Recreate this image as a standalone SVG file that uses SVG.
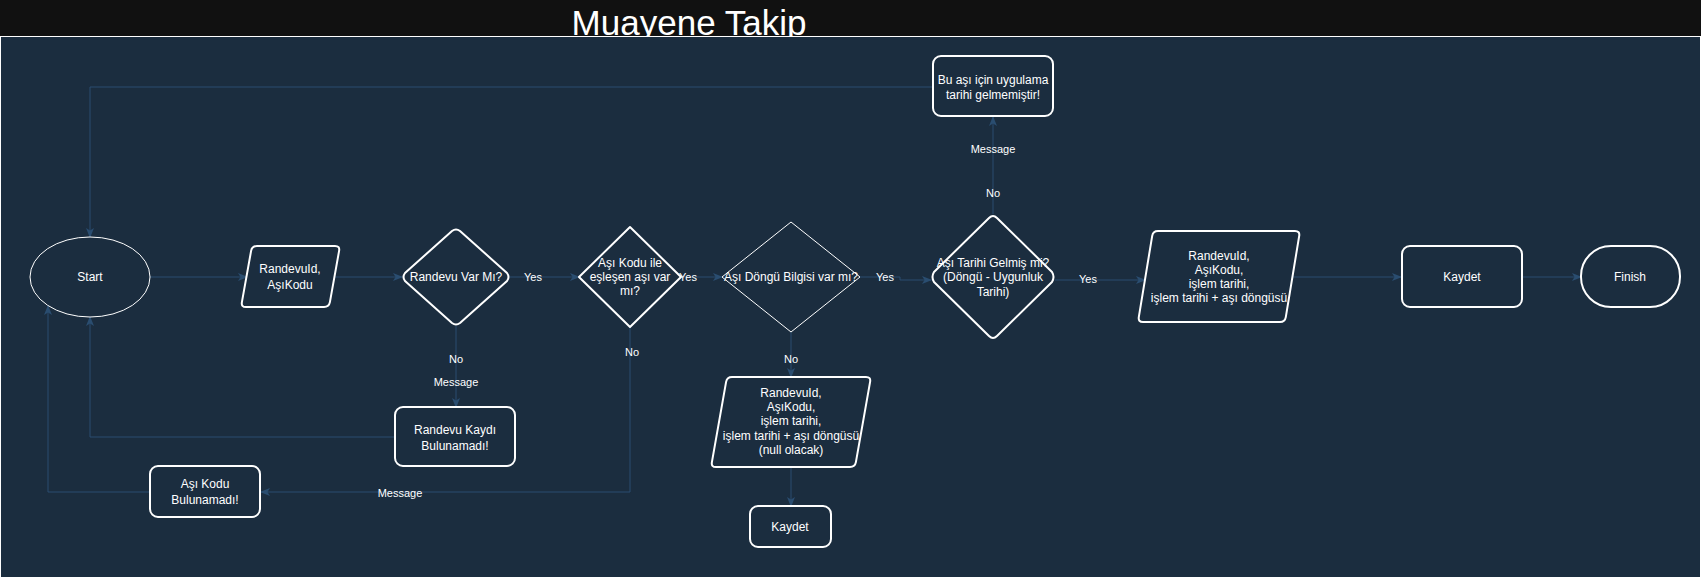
<svg xmlns="http://www.w3.org/2000/svg" width="1701" height="577" viewBox="0 0 1701 577">
<defs>
<style>
.node{fill:#1b2d3f;stroke:#ffffff;stroke-width:2;stroke-linejoin:round}
.thin{fill:#1b2d3f;stroke:#ffffff;stroke-width:1}
.t{font-family:"Liberation Sans",Arial,sans-serif;font-size:12px;fill:#ffffff;text-anchor:middle}
.lbl{font-family:"Liberation Sans",Arial,sans-serif;font-size:11px;fill:#ffffff;text-anchor:middle}
.edge{fill:none;stroke:#2a4d70;stroke-width:1}
</style>
<marker id="arr" markerUnits="userSpaceOnUse" markerWidth="10" markerHeight="10" viewBox="0 0 10 10" refX="9" refY="5" orient="auto">
<path d="M0,1 L10,5 L0,9 L2.5,5 Z" fill="#2a4d70"/>
</marker>
</defs>
<rect x="0" y="0" width="1701" height="577" fill="#111111"/>
<text x="689" y="35" font-family="'Liberation Sans',Arial,sans-serif" font-size="35" fill="#ffffff" text-anchor="middle">Muayene Takip</text>
<rect x="0.5" y="36.5" width="1700" height="541" fill="#1b2d3f" stroke="#ffffff" stroke-width="1"/>

<g id="connectors">
<path class="edge" d="M150,277 L247,277" marker-end="url(#arr)"/>
<path class="edge" d="M335,277 L402,277" marker-end="url(#arr)"/>
<path class="edge" d="M510,277 L579,277" marker-end="url(#arr)"/>
<path class="edge" d="M681,277 L722,277" marker-end="url(#arr)"/>
<path class="edge" d="M860,277 L900,277 L900,280 L931,280" marker-end="url(#arr)"/>
<path class="edge" d="M1055,280 L1145,280" marker-end="url(#arr)"/>
<path class="edge" d="M1292,277 L1401,277" marker-end="url(#arr)"/>
<path class="edge" d="M1522,277 L1581,277" marker-end="url(#arr)"/>
<path class="edge" d="M993,214 L993,117" marker-end="url(#arr)"/>
<path class="edge" d="M932,87 L90,87 L90,237" marker-end="url(#arr)"/>
<path class="edge" d="M456,326 L456,407" marker-end="url(#arr)"/>
<path class="edge" d="M395,437 L90,437 L90,317" marker-end="url(#arr)"/>
<path class="edge" d="M630,327 L630,492 L261,492" marker-end="url(#arr)"/>
<path class="edge" d="M150,492 L48,492 L48,306" marker-end="url(#arr)"/>
<path class="edge" d="M791,332 L791,377" marker-end="url(#arr)"/>
<path class="edge" d="M791,467 L791,506" marker-end="url(#arr)"/>
<text class="lbl" x="533" y="281">Yes</text>
<text class="lbl" x="688" y="281">Yes</text>
<text class="lbl" x="885" y="281">Yes</text>
<text class="lbl" x="1088" y="283">Yes</text>
<text class="lbl" x="993" y="197">No</text>
<text class="lbl" x="993" y="153">Message</text>
<text class="lbl" x="456" y="363">No</text>
<text class="lbl" x="456" y="386">Message</text>
<text class="lbl" x="632" y="356">No</text>
<text class="lbl" x="400" y="497">Message</text>
<text class="lbl" x="791" y="363">No</text>
</g>

<g id="start">
<ellipse class="thin" cx="90" cy="277" rx="60" ry="40"/>
<text class="t" x="90" y="281">Start</text>
</g>

<g id="input1">
<path class="node" d="M257,246 L335,246 Q340,246 339.1,250.9 L329.9,302.1 Q329,307 324,307 L246,307 Q241,307 241.9,302.1 L251.1,250.9 Q252,246 257,246 Z"/>
<text class="t" x="290" y="273">RandevuId,</text>
<text class="t" x="290" y="289">AşıKodu</text>
</g>

<g id="d-randevu">
<path class="node" d="M452,231 Q456,228 460,231 L507,273 Q510,277 507,281 L460,323 Q456,326 452,323 L405,281 Q402,277 405,273 Z"/>
<text class="t" x="456" y="281">Randevu Var Mı?</text>
</g>

<g id="d-asikodu">
<path class="node" stroke-linejoin="miter" d="M630,227 L681,277 L630,327 L579,277 Z"/>
<text class="t" x="630" y="267">Aşı Kodu ile</text>
<text class="t" x="630" y="281">eşleşen aşı var</text>
<text class="t" x="630" y="295">mı?</text>
</g>

<g id="d-dongu">
<path class="thin" d="M791,222 L860,277 L791,332 L722,277 Z"/>
<text class="t" x="791" y="281">Aşı Döngü Bilgisi var mı?</text>
</g>

<g id="d-tarih">
<path class="node" d="M989,218 Q993,214 997,218 L1052,272 Q1055,277 1052,282 L997,336 Q993,340 989,336 L934,282 Q931,277 934,272 Z"/>
<text class="t" x="993" y="267">Aşı Tarihi Gelmiş mi?</text>
<text class="t" x="993" y="281">(Döngü - Uygunluk</text>
<text class="t" x="993" y="296">Tarihi)</text>
</g>

<g id="msg-tarih">
<rect class="node" x="933" y="56" width="120" height="60" rx="8"/>
<text class="t" x="993" y="84">Bu aşı için uygulama</text>
<text class="t" x="993" y="99">tarihi gelmemiştir!</text>
</g>

<g id="input2">
<path class="node" d="M1158,231 L1295,231 Q1300,231 1299.2,235.9 L1285.8,317.1 Q1285,322 1280,322 L1143,322 Q1138,322 1138.8,317.1 L1152.2,235.9 Q1153,231 1158,231 Z"/>
<text class="t" x="1219" y="260">RandevuId,</text>
<text class="t" x="1219" y="274">AşıKodu,</text>
<text class="t" x="1219" y="288">işlem tarihi,</text>
<text class="t" x="1219" y="302">işlem tarihi + aşı döngüsü</text>
</g>

<g id="kaydet1">
<rect class="node" x="1402" y="246" width="120" height="61" rx="8"/>
<text class="t" x="1462" y="281">Kaydet</text>
</g>

<g id="finish">
<rect class="node" x="1581" y="246" width="99" height="61" rx="30"/>
<text class="t" x="1630" y="281">Finish</text>
</g>

<g id="msg-randevu">
<rect class="node" x="395" y="407" width="120" height="59" rx="8"/>
<text class="t" x="455" y="434">Randevu Kaydı</text>
<text class="t" x="455" y="450">Bulunamadı!</text>
</g>

<g id="msg-asikodu">
<rect class="node" x="150" y="466" width="110" height="51" rx="8"/>
<text class="t" x="205" y="488">Aşı Kodu</text>
<text class="t" x="205" y="504">Bulunamadı!</text>
</g>

<g id="input3">
<path class="node" d="M732,377 L866,377 Q871,377 870.1,381.9 L855.9,462.1 Q855,467 850,467 L716,467 Q711,467 711.9,462.1 L726.1,381.9 Q727,377 732,377 Z"/>
<text class="t" x="791" y="397">RandevuId,</text>
<text class="t" x="791" y="411">AşıKodu,</text>
<text class="t" x="791" y="425">işlem tarihi,</text>
<text class="t" x="791" y="440">işlem tarihi + aşı döngüsü</text>
<text class="t" x="791" y="454">(null olacak)</text>
</g>

<g id="kaydet2">
<rect class="node" x="750" y="506" width="81" height="41" rx="8"/>
<text class="t" x="790" y="531">Kaydet</text>
</g>
</svg>
